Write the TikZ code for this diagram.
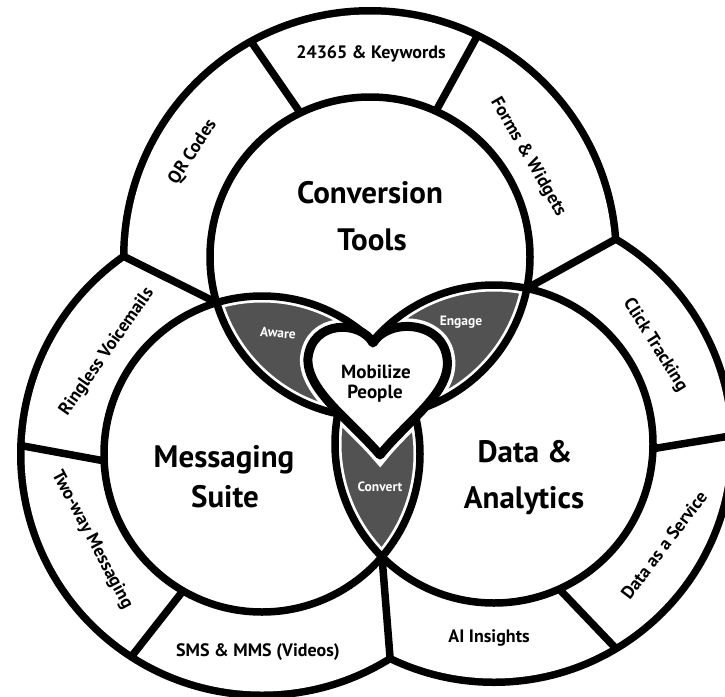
\documentclass[tikz,border=0pt]{standalone}
\usepackage{fontspec}
\setmainfont{PT Sans}
\definecolor{lensgray}{RGB}{82,82,82}
\begin{document}
\begin{tikzpicture}[x=1pt,y=-1pt,
  ink/.style={line width=7.5pt,black},
  band/.style={line width=13pt,white},
  divider/.style={line width=7.5pt,black},
  mainlbl/.style={font=\fontsize{31}{34}\selectfont\bfseries,anchor=base,inner sep=0pt},
  ringlbl/.style={font=\fontsize{18}{20}\selectfont\bfseries,anchor=center,inner sep=0pt},
  lenslbl/.style={font=\fontsize{13.5}{15}\selectfont\bfseries,text=white,anchor=center,inner sep=0pt},
  heartlbl/.style={font=\fontsize{19}{20}\selectfont\bfseries,anchor=base,inner sep=0pt}]
\useasboundingbox (0,0) rectangle (725,696);
\fill[white] (0,0) rectangle (725,696);

% centres
\coordinate (T) at (370,257);
\coordinate (L) at (262,454);
\coordinate (R) at (494,444);

% outer ring boundary (union of outer circles)
\draw[line width=15pt] (T) circle[radius=242.5pt];
\draw[line width=15pt] (L) circle[radius=237.5pt];
\draw[line width=15pt] (R) circle[radius=234.5pt];
\fill[white] (T) circle[radius=242.5pt];
\fill[white] (L) circle[radius=237.5pt];
\fill[white] (R) circle[radius=234.5pt];

% lens fills
\begin{scope}
  \clip (T) circle[radius=160pt];
  \fill[lensgray] (L) circle[radius=158pt];
  \fill[lensgray] (R) circle[radius=159pt];
\end{scope}
\begin{scope}
  \clip (L) circle[radius=158pt];
  \fill[lensgray] (R) circle[radius=159pt];
\end{scope}

% heart path
\def\heartpath{(373,343) .. controls (360,320) and (312,320) .. (308,358)
  .. controls (306,390) and (350,420) .. (380,455)
  .. controls (408,420) and (452,392) .. (447,358)
  .. controls (442,320) and (388,318) .. (373,343) -- cycle}

% white bands
\draw[band] (T) circle[radius=160pt];
\draw[band] (L) circle[radius=158pt];
\draw[band] (R) circle[radius=159pt];
\draw[line width=16pt,white] \heartpath;

% inner circles
\draw[ink] (T) circle[radius=160pt];
\draw[ink] (L) circle[radius=158pt];
\draw[ink] (R) circle[radius=159pt];

% heart
\fill[white] \heartpath;
\draw[line width=9pt,black,line join=round] \heartpath;

% divider end points
\path (T) ++(115.8:160pt) coordinate (d1i);
\path (T) ++(118.9:246pt) coordinate (d1o);
\path (T) ++(65.7:160pt) coordinate (d2i);
\path (T) ++(64.1:246pt) coordinate (d2o);
\path (L) ++(182.5:158pt) coordinate (d3i);
\path (L) ++(178:241pt) coordinate (d3o);
\path (L) ++(240:158pt) coordinate (d4i);
\path (L) ++(237.2:241pt) coordinate (d4o);
\path (R) ++(-1.7:159pt) coordinate (d5i);
\path (R) ++(2:238pt) coordinate (d5o);
\path (R) ++(-65.8:159pt) coordinate (d6i);
\path (R) ++(-59.2:238pt) coordinate (d6o);
\coordinate (jTLo) at (124,256.5);
\coordinate (jTLi) at (216.7,302.7);
\coordinate (jTRo) at (615.4,239.3);
\coordinate (jTRi) at (526.9,288.4);
\coordinate (jBo) at (390.1,658.2);
\coordinate (jBi) at (382,556.8);

\draw[divider] (d1i) -- (d1o);
\draw[divider] (d2i) -- (d2o);
\draw[divider] (d3i) -- (d3o);
\draw[divider] (d4i) -- (d4o);
\draw[divider] (d5i) -- (d5o);
\draw[divider] (d6i) -- (d6o);
\draw[divider] (jTLi) -- (jTLo);
\draw[divider] (jTRi) -- (jTRo);
\draw[divider] (jBi) -- (jBo);

% main labels
\node[mainlbl] (ct1) at (370,203) {Conversion};
\node[mainlbl] (ct2) at (372,250) {Tools};
\node[mainlbl] (ms1) at (224,467) {Messaging};
\node[mainlbl] (ms2) at (225,507) {Suite};
\node[mainlbl] (da1) at (525,462) {Data \&};
\node[mainlbl] (da2) at (524,508) {Analytics};
\node[heartlbl] (mp1) at (376,378) {Mobilize};
\node[heartlbl] (mp2) at (375,398) {People};

% lens labels
\node[lenslbl,rotate=-4] (aw) at (278,333) {Aware};
\node[lenslbl] (en) at (461,322) {Engage};
\node[lenslbl] (cv) at (380,487) {Convert};

% ring labels
\node[ringlbl] (r1) at (371,54) {24365 \& Keywords};
\node[ringlbl,rotate=57] (r2) at (193,152) {QR Codes};
\node[ringlbl,rotate=-60] (r3) at (528,157) {Forms \& Widgets};
\node[ringlbl,rotate=55] (r4) at (107,352) {Ringless Voicemails};
\node[ringlbl,rotate=-62] (r5) at (92,540) {Two-way Messaging};
\node[ringlbl] (r6) at (258,652) {SMS \& MMS (Videos)};
\node[ringlbl] (r7) at (489,638) {AI Insights};
\node[ringlbl,rotate=53] (r8) at (664,545) {Data as a Service};
\node[ringlbl,rotate=-58] (r9) at (655,345) {Click Tracking};
\end{tikzpicture}
\end{document}
